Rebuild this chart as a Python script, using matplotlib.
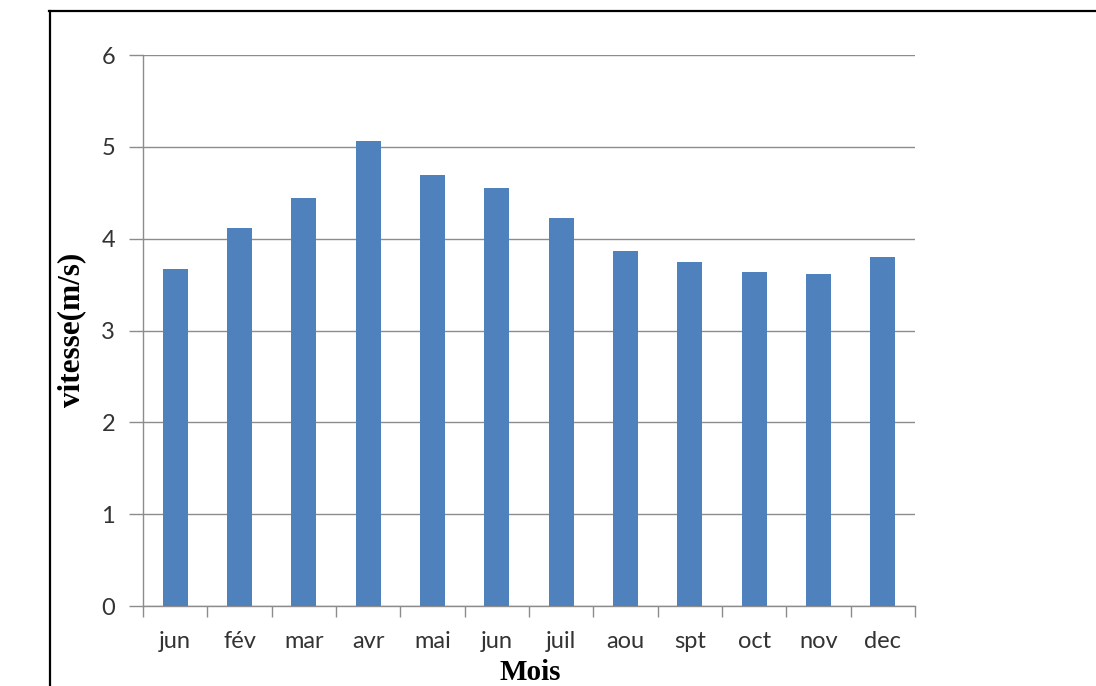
import numpy as np
import matplotlib
matplotlib.use("Agg")
import matplotlib.pyplot as plt
from matplotlib.lines import Line2D

# === data ===
mois = ["jun", "fév", "mar", "avr", "mai", "jun", "juil", "aou", "spt", "oct", "nov", "dec"]
vitesse = [3.67, 4.12, 4.44, 5.06, 4.69, 4.55, 4.23, 3.87, 3.75, 3.64, 3.62, 3.80]
y_ticks = [0, 1, 2, 3, 4, 5, 6]

fig = plt.figure(figsize=(10.96, 6.86), dpi=100)
ax = fig.add_axes([0.1305, 0.1166, 0.7044, 0.8032])

x = np.arange(len(mois))
ax.bar(x, vitesse, width=0.39, color="#4F81BD", zorder=3)

ax.set_xlim(-0.5, len(mois) - 0.5)
ax.set_ylim(0, 6)
ax.set_yticks(y_ticks)
ax.set_yticklabels([str(t) for t in y_ticks], fontfamily="Lato", fontsize=17, color="#333333")
ax.set_xticks(x)
ax.set_xticklabels(mois, fontfamily="Lato", fontsize=17, color="#333333")
ax.set_xticks(np.arange(-0.5, len(mois)), minor=True)

ax.grid(axis="y", color="#8c8c8c", linewidth=1, zorder=0)
ax.tick_params(axis="x", which="major", length=0, pad=18)
ax.tick_params(axis="x", which="minor", length=8, color="#8c8c8c", width=1)
ax.tick_params(axis="y", length=10, color="#8c8c8c", width=1, pad=10)

for s in ["top", "right"]:
    ax.spines[s].set_visible(False)
for s in ["left", "bottom"]:
    ax.spines[s].set_color("#8c8c8c")
    ax.spines[s].set_linewidth(1)

fig.text(0.065, 0.519, "vitesse(m/s)", rotation=90, ha="center", va="center",
         fontfamily="Liberation Serif", fontweight="bold", fontsize=22.5)
fig.text(0.484, 0.0, "Mois", ha="center", va="bottom",
         fontfamily="Liberation Serif", fontweight="bold", fontsize=21)

# outer frame (table border)
fig.add_artist(Line2D([49 / 1096, 1.0], [1 - 11 / 686, 1 - 11 / 686], color="black", linewidth=1.6))
fig.add_artist(Line2D([50 / 1096, 50 / 1096], [0.0, 1 - 11 / 686], color="black", linewidth=1.6))

fig.savefig("out.png", dpi=100)
